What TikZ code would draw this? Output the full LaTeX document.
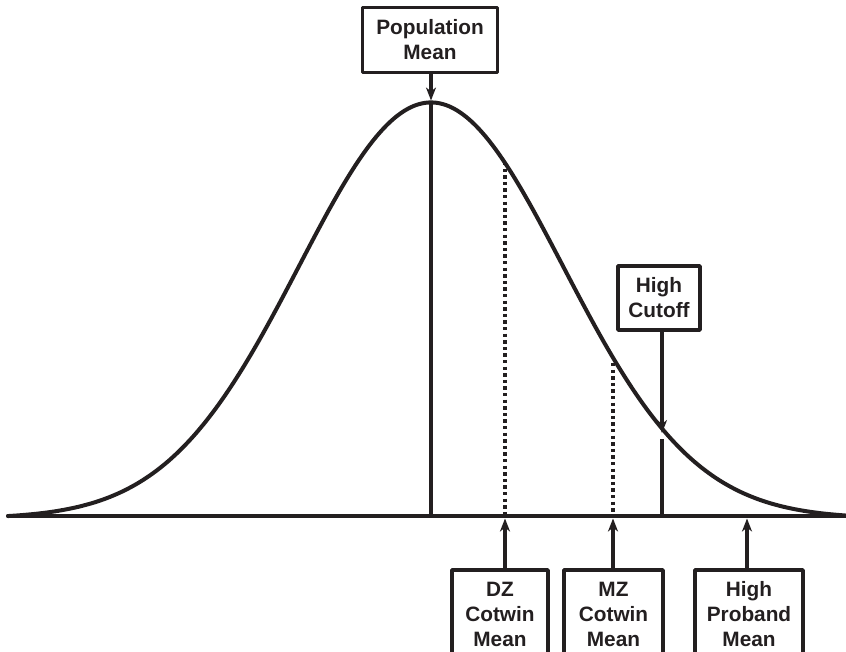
\documentclass[tikz,border=0pt]{standalone}
\usepackage{fontspec}
\setmainfont{Liberation Sans}
\usetikzlibrary{arrows.meta}
\definecolor{ink}{HTML}{231F20}
\begin{document}
\begin{tikzpicture}[x=1pt,y=-1pt,line join=round,
  labelbox/.style={draw=ink,line width=3.6pt,text=ink,
    font=\fontsize{20.8}{25}\selectfont\bfseries,align=center,inner sep=0pt},
  pointer/.style={draw=ink,line width=3.4pt,
    -{Stealth[length=13pt,width=10pt,inset=4pt]}},
  guide/.style={draw=ink,line width=3.6pt,dash pattern=on 3.4pt off 3.2pt},
  marker/.style={draw=ink,line width=4pt},
  axis/.style={draw=ink,line width=3.6pt,line cap=round}]
\path[use as bounding box] (0,0) rectangle (846,651);
\clip (0,0) rectangle (846,651);

% points on the axis and on the curve
\coordinate (axisL) at (8,516);
\coordinate (axisR) at (846,516);
\coordinate (peak) at (431,102.5);
\coordinate (peakbase) at (431,516);
\coordinate (dztop) at (505,162);
\coordinate (dzbase) at (505,516);
\coordinate (mztop) at (613,363);
\coordinate (mzbase) at (613,516);
\coordinate (cutcurve) at (662,433);
\coordinate (cuttop) at (662,439);
\coordinate (cutbase) at (662,516);
\coordinate (dzaxis) at (505,518.5);
\coordinate (mzaxis) at (613,518.5);
\coordinate (pbaxis) at (747,518.5);

% normal curve and axis
\draw[ink,line width=4pt,line cap=round]
  plot[domain=8:846,samples=240,smooth]
  (\x,{516-(416*exp(-0.5*((\x-431)/132)^2)-2.5)});
\draw[axis] (axisL) -- (axisR);

% mean, cotwin means and cutoff
\draw[marker] (peak) -- (peakbase);
\draw[guide] (dztop) -- (dzbase);
\draw[guide] (mztop) -- (mzbase);
\draw[marker] (cuttop) -- (cutbase);

% label boxes
\node[labelbox,minimum width=135pt,minimum height=65pt] (popmean) at (430,40)
  {Population\\Mean};
\node[labelbox,minimum width=82pt,minimum height=64pt] (cutoff) at (659,298)
  {High\\Cutoff};
\node[labelbox,minimum width=96pt,minimum height=88pt] (dz) at (500,614)
  {DZ\\Cotwin\\Mean};
\node[labelbox,minimum width=99pt,minimum height=88pt] (mz) at (613.5,614)
  {MZ\\Cotwin\\Mean};
\node[labelbox,minimum width=108pt,minimum height=88pt] (pb) at (749,614)
  {High\\Proband\\Mean};

% pointers
\draw[pointer] (popmean.south -| peak) -- ([yshift=2pt]peak);
\draw[pointer] (cutoff.south -| cutcurve) -- (cutcurve);
\draw[pointer] (dz.north -| dzaxis) -- (dzaxis);
\draw[pointer] (mz.north -| mzaxis) -- (mzaxis);
\draw[pointer] (pb.north -| pbaxis) -- (pbaxis);
\end{tikzpicture}
\end{document}
